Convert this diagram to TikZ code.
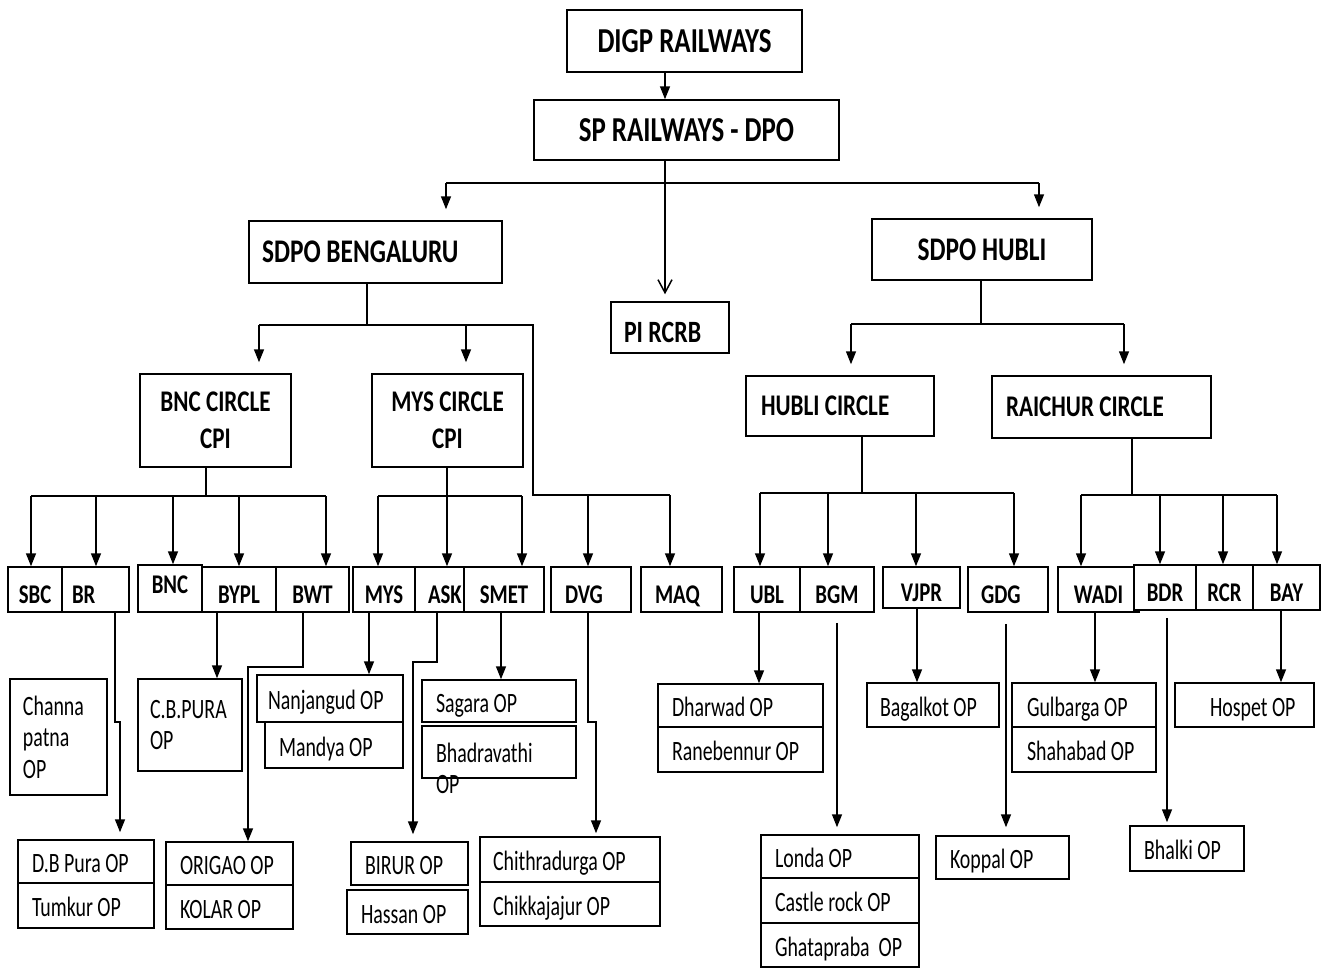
\documentclass[tikz,border=0pt]{standalone}
\usepackage{fontspec}
\setmainfont{Carlito}
\newfontfamily\hdf[FakeStretch=0.77]{Carlito}
\newfontfamily\opf[FakeStretch=0.71]{Carlito}
\usetikzlibrary{arrows.meta}

% centred box from corners: [style]{name}{x1}{y1}{x2}{y2}{text}
\newcommand{\boxC}[7][]{%
  \node[bx,#1,minimum width={#5-#3},minimum height={#6-#4}] (#2) at ({(#3+#5)/2},{(#4+#6)/2}) {#7};}
% single-line left-aligned box: [style]{name}{x1}{y1}{x2}{y2}{pad}{text}
\newcommand{\boxL}[8][]{%
  \pgfmathsetmacro{\twd}{#5-#3-2*#7}%
  \node[bx,#1,inner xsep=#7pt,minimum height={#6-#4}] (#2) at ({(#3+#5)/2},{(#4+#6)/2}) {\makebox[\twd pt][l]{#8}};}
% multi-line left-aligned box
\newcommand{\boxM}[8][]{%
  \pgfmathsetmacro{\twd}{#5-#3-2*#7}%
  \node[bx,#1,align=left,inner xsep=#7pt,text width=\twd pt,minimum height={#6-#4}] (#2) at ({(#3+#5)/2},{(#4+#6)/2}) {#8};}

\tikzset{
  bx/.style={draw,line width=1.5pt,inner xsep=0pt,inner ysep=0pt},
  ft/.style={font=\hdf\bfseries\fontsize{33}{38}\selectfont,text height=21pt,text depth=0pt},
  ftb/.style={font=\hdf\bfseries\fontsize{35}{40}\selectfont,text height=22pt,text depth=0pt},
  fp/.style={font=\hdf\bfseries\fontsize{31}{36}\selectfont,text height=29pt,text depth=0pt},
  fc/.style={font=\hdf\bfseries\fontsize{30}{37}\selectfont,text height=19.3pt,text depth=0pt},
  fcm/.style={font=\hdf\bfseries\fontsize{30}{37}\selectfont,align=center},
  fk/.style={font=\hdf\bfseries\fontsize{27}{31}\selectfont,text height=28pt,text depth=0pt},
  fo/.style={font=\opf\fontsize{28}{31.5}\selectfont,text height=22pt,text depth=0pt},
  fom/.style={font=\opf\fontsize{28}{31.5}\selectfont},
  ln/.style={line width=1.5pt},
  arr/.style={ln,-{Triangle[length=13pt,width=10pt]}},
  oarr/.style={ln,-{Straight Barb[length=13pt,width=14pt]}}
}

\begin{document}
\begin{tikzpicture}[x=1pt,y=-1pt]
\fill[white] (0,0) rectangle (1330,969);
\useasboundingbox (0,0) rectangle (1330,969);

% ---- top levels
\boxC[ftb]{digp}{567}{10}{802}{72}{DIGP RAILWAYS}
\boxC[ftb]{sp}{534}{100}{839}{160}{SP RAILWAYS - DPO}
\boxL[ft]{sdpob}{249}{221}{502}{283}{13}{SDPO BENGALURU}
\boxC[ft]{sdpoh}{872}{219}{1092}{280}{SDPO HUBLI}
\boxL[fp]{pircrb}{611}{302}{729}{353}{13}{PI RCRB}

% ---- circles
\boxC[fcm]{bnccir}{140}{374}{291}{467}{BNC CIRCLE\\CPI}
\boxC[fcm]{myscir}{372}{374}{523}{467}{MYS CIRCLE\\CPI}
\boxL[fc]{hublicir}{746}{376}{934}{436}{15}{HUBLI CIRCLE}
\boxL[fc]{raichurcir}{992}{376}{1211}{438}{14}{RAICHUR CIRCLE}

% ---- codes
\boxC[fk]{sbc}{8}{567}{62}{612}{SBC}
\boxL[fk]{br}{62}{567}{129}{612}{10}{BR}
\boxC[fk,text depth=17.6pt]{bnc}{138}{565}{202}{612}{BNC}
\boxC[fk]{bypl}{202}{567}{276}{612}{BYPL}
\boxC[fk]{bwt}{276}{567}{349}{612}{BWT}
\boxC[fk]{mys}{353}{567}{415}{612}{MYS}
\boxL[fk]{ask}{415}{567}{464}{612}{13}{ASK}
\boxC[fk]{smet}{464}{567}{544}{612}{SMET}
\boxL[fk]{dvg}{551}{567}{631}{612}{14}{DVG}
\boxL[fk]{maq}{641}{567}{722}{612}{14}{MAQ}
\boxC[fk]{ubl}{734}{567}{800}{612}{UBL}
\boxC[fk]{bgm}{800}{567}{874}{612}{BGM}
\boxC[fk]{vjpr}{883}{567}{960}{608}{VJPR}
\boxL[fk]{gdg}{968}{567}{1048}{612}{13}{GDG}
\boxC[fk]{wadi}{1058}{567}{1139}{612}{WADI}
\boxC[fk,fill=white]{bdr}{1134}{565}{1196}{610}{BDR}
\boxC[fk]{rcr}{1196}{565}{1253}{610}{RCR}
\boxC[fk]{bay}{1253}{565}{1320}{610}{BAY}

% ---- outposts
\boxM[fom]{channa}{10}{679}{107}{795}{13}{Channa\\patna\\OP}
\boxM[fom]{cbpura}{138}{679}{242}{771}{12}{C.B.PURA\\OP}
\boxL[fo]{nanj}{257}{675}{403}{722}{11}{Nanjangud OP}
\boxL[fo]{mandya}{265}{722}{403}{768}{14}{Mandya OP}
\boxL[fo]{sagara}{422}{680}{576}{722}{14}{Sagara OP}
\boxM[fom,text height=20pt,text depth=0pt]{bhad}{422}{726}{576}{778}{14}{Bhadravathi\\OP}
\boxL[fo]{dbpura}{18}{840}{154}{883}{14}{D.B Pura OP}
\boxL[fo]{tumkur}{18}{883}{154}{928}{14}{Tumkur OP}
\boxL[fo]{origao}{166}{842}{293}{885}{14}{ORIGAO OP}
\boxL[fo]{kolar}{166}{885}{293}{929}{14}{KOLAR OP}
\boxL[fo]{birur}{351}{842}{468}{885}{14}{BIRUR OP}
\boxL[fo]{hassan}{347}{890}{468}{934}{14}{Hassan OP}
\boxL[fo]{chith}{480}{837}{660}{882}{13}{Chithradurga OP}
\boxL[fo]{chikka}{480}{882}{660}{926}{13}{Chikkajajur OP}
\boxL[fo]{dharwad}{658}{684}{823}{727}{14}{Dharwad OP}
\boxL[fo]{rane}{658}{727}{823}{772}{14}{Ranebennur OP}
\boxL[fo]{bagal}{867}{683}{999}{727}{13}{Bagalkot OP}
\boxL[fo]{gulb}{1012}{683}{1156}{727}{15}{Gulbarga OP}
\boxL[fo]{shaha}{1012}{727}{1156}{772}{15}{Shahabad OP}
\boxL[fo]{hospet}{1175}{683}{1314}{727}{35}{Hospet OP}
\boxL[fo]{londa}{761}{835}{919}{878}{14}{Londa OP}
\boxL[fo]{castle}{761}{878}{919}{923}{14}{Castle rock OP}
\boxL[fo]{ghata}{761}{923}{919}{967}{14}{Ghatapraba\ \ OP}
\boxL[fo]{koppal}{936}{836}{1069}{879}{14}{Koppal OP}
\boxL[fo]{bhalki}{1130}{826}{1244}{871}{14}{Bhalki OP}

% ---- connectors: top
\coordinate (j0) at (665,183);
\coordinate (j0L) at (446,183);
\coordinate (j0R) at (1039,183);
\draw[arr] (digp.south -| j0) -- (sp.north -| j0);
\draw[ln] (sp.south -| j0) -- (j0);
\draw[ln] (j0L) -- (j0R);
\draw[arr,shorten >=11pt] (j0L) -- (sdpob.north -| j0L);
\draw[arr,shorten >=11pt] (j0R) -- (sdpoh.north -| j0R);
\draw[oarr,shorten >=7pt] (j0) -- (pircrb.north -| j0);

% SDPO Bengaluru
\coordinate (j1) at (367,325);
\coordinate (j1L) at (259,325);
\coordinate (j1M) at (466,325);
\coordinate (j1R) at (533,325);
\coordinate (j2) at (533,495);
\coordinate (j2a) at (588,495);
\coordinate (j2b) at (670,495);
\draw[ln] (sdpob.south -| j1) -- (j1);
\draw[ln] (j1L) -- (j1R) -- (j2) -- (j2b);
\draw[arr,shorten >=11pt] (j1L) -- (bnccir.north -| j1L);
\draw[arr,shorten >=11pt] (j1M) -- (myscir.north -| j1M);
\draw[arr] (j2a) -- (dvg.north -| j2a);
\draw[arr] (j2b) -- (maq.north -| j2b);

% BNC circle
\coordinate (k0) at (206,496);
\coordinate (k1) at (31,496);
\coordinate (k2) at (96,496);
\coordinate (k3) at (173,496);
\coordinate (k4) at (239,496);
\coordinate (k5) at (326,496);
\draw[ln] (bnccir.south -| k0) -- (k0);
\draw[ln] (k1) -- (k5);
\foreach \c/\n in {k1/sbc,k2/br,k3/bnc,k4/bypl,k5/bwt}
  \draw[arr] (\c) -- (\n.north -| \c);

% MYS circle
\coordinate (m0) at (447,496);
\coordinate (m1) at (378,496);
\coordinate (m3) at (522,496);
\draw[ln] (myscir.south -| m0) -- (m0);
\draw[ln] (m1) -- (m3);
\foreach \c/\n in {m1/mys,m0/ask,m3/smet}
  \draw[arr] (\c) -- (\n.north -| \c);

% SDPO Hubli
\coordinate (h0) at (981,324);
\coordinate (h1) at (851,324);
\coordinate (h2) at (1124,324);
\draw[ln] (sdpoh.south -| h0) -- (h0);
\draw[ln] (h1) -- (h2);
\draw[arr,shorten >=11pt] (h1) -- (hublicir.north -| h1);
\draw[arr,shorten >=11pt] (h2) -- (raichurcir.north -| h2);

% Hubli circle
\coordinate (u0) at (862,493);
\coordinate (u1) at (760,493);
\coordinate (u2) at (828,493);
\coordinate (u3) at (916,493);
\coordinate (u4) at (1014,493);
\draw[ln] (hublicir.south -| u0) -- (u0);
\draw[ln] (u1) -- (u4);
\foreach \c/\n in {u1/ubl,u2/bgm,u3/vjpr,u4/gdg}
  \draw[arr] (\c) -- (\n.north -| \c);

% Raichur circle
\coordinate (r0) at (1132,495);
\coordinate (r1) at (1081,495);
\coordinate (r2) at (1160,495);
\coordinate (r3) at (1223,495);
\coordinate (r4) at (1277,495);
\draw[ln] (raichurcir.south -| r0) -- (r0);
\draw[ln] (r1) -- (r4);
\foreach \c/\n in {r1/wadi,r2/bdr,r3/rcr,r4/bay}
  \draw[arr] (\c) -- (\n.north -| \c);

% ---- code to outpost connectors
\coordinate (p1) at (115,722);
\coordinate (p2) at (120,722);
\draw[arr,shorten >=7pt] (br.south -| p1) -- (p1) -- (p2) -- (dbpura.north -| p2);
\coordinate (p3) at (217,0);
\draw[arr] (bypl.south -| p3) -- (cbpura.north -| p3);
\coordinate (p4) at (303,667);
\coordinate (p5) at (248,667);
\draw[arr] (bwt.south -| p4) -- (p4) -- (p5) -- (origao.north -| p5);
\coordinate (p6) at (369,0);
\draw[arr] (mys.south -| p6) -- (nanj.north -| p6);
\coordinate (p7) at (437,662);
\coordinate (p8) at (413,662);
\draw[arr,shorten >=7pt] (ask.south -| p7) -- (p7) -- (p8) -- (birur.north -| p8);
\coordinate (p9) at (501,0);
\draw[arr] (smet.south -| p9) -- (sagara.north -| p9);
\coordinate (p10) at (588,722);
\coordinate (p11) at (596,722);
\draw[arr,shorten >=3pt] (dvg.south -| p10) -- (p10) -- (p11) -- (chith.north -| p11);
\coordinate (p12) at (759,0);
\draw[arr] (ubl.south -| p12) -- (dharwad.north -| p12);
\coordinate (p13) at (837,0);
\draw[arr,shorten <=10pt,shorten >=7pt] (bgm.south -| p13) -- (londa.north -| p13);
\coordinate (p14) at (917,0);
\draw[arr] (vjpr.south -| p14) -- (bagal.north -| p14);
\coordinate (p15) at (1006,0);
\draw[arr,shorten <=11pt,shorten >=8pt] (gdg.south -| p15) -- (koppal.north -| p15);
\coordinate (p16) at (1095,0);
\draw[arr] (wadi.south -| p16) -- (gulb.north -| p16);
\coordinate (p17) at (1167,0);
\draw[arr,shorten <=7pt,shorten >=3pt] (bdr.south -| p17) -- (bhalki.north -| p17);
\coordinate (p18) at (1281,0);
\draw[arr] (bay.south -| p18) -- (hospet.north -| p18);
\end{tikzpicture}
\end{document}
